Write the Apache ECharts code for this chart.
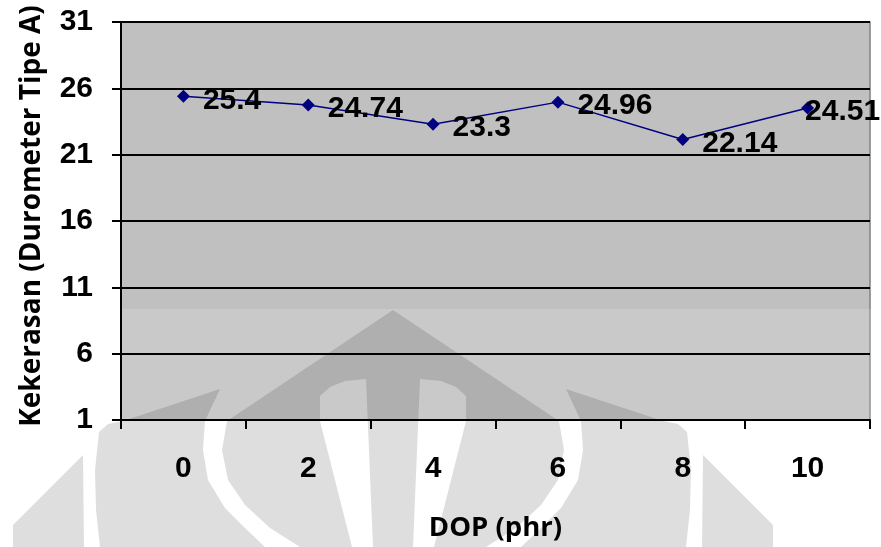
<!DOCTYPE html>
<html>
<head>
<meta charset="utf-8">
<script src="https://cdn.jsdelivr.net/npm/echarts@6/dist/echarts.min.js"></script>
<style>
  html, body { margin: 0; padding: 0; background: #ffffff; }
  #chart { width: 881px; height: 547px; }
</style>
</head>
<body>
<div id="chart"></div>
<script>
// DOP content (phr) and measured hardness (Durometer type A)
const dopLevels = ['0', '2', '4', '6', '8', '10'];
const hardness = [25.4, 24.74, 23.3, 24.96, 22.14, 24.51];
const yTicks = [1, 6, 11, 16, 21, 26, 31];

const chart = echarts.init(document.getElementById('chart'), null, { renderer: 'canvas' });

const labelFont = 'Liberation Sans, Arial, sans-serif';
const titleFont = 'Open Sans, sans-serif';

// Plot-area box (pixels)
const plot = { left: 121, right: 11, top: 22, bottom: 126 };

// Faint emblem printed behind the lower part of the page (left half; mirrored for the right)
const emblemAxisX = 393;
const emblemTop = 309;
const emblemHalf = [
  // central horn with its inner cut-out and half of the spire
  [[393,310],[227,421],[222,450],[228,480],[245,505],[270,528],[300,547],[352,547],[320,421],[320,396],[330,387],[345,381],[366,379],[373,547],[393,547]],
  // side wing
  [[123,421],[220,389],[205,421],[203,450],[208,480],[225,508],[245,528],[265,547],[100,547],[96,510],[95,470],[99,432],[108,424]],
  // outer petal
  [[83,455],[60,478],[35,503],[13,525],[13,547],[84,547]]
];
const emblemShade = 'rgba(0,0,0,0.13)';

function emblemElements() {
  const make = () => emblemHalf.map(pts => ({ type: 'polygon', shape: { points: pts }, style: { fill: emblemShade } }));
  return [
    {
      type: 'rect', z: -1,
      shape: { x: 0, y: emblemTop, width: 881, height: 547 - emblemTop },
      style: { fill: 'rgba(255,255,255,0.14)' }
    },
    { type: 'group', z: -1, children: make() },
    { type: 'group', z: -1, x: emblemAxisX * 2, scaleX: -1, children: make() }
  ];
}

// the last label is pulled back inside the chart edge
const seriesData = hardness.map((v, i) => i === hardness.length - 1
  ? { value: v, label: { offset: [-22, 4] } }
  : v);

chart.setOption({
  animation: false,
  backgroundColor: '#ffffff',
  grid: {
    left: plot.left, right: plot.right, top: plot.top, bottom: plot.bottom,
    show: true,
    z: -2,
    backgroundColor: '#c0c0c0',
    borderColor: '#808080',
    borderWidth: 1.5
  },
  graphic: { elements: emblemElements() },
  xAxis: {
    type: 'category',
    data: dopLevels,
    boundaryGap: true,
    name: 'DOP (phr)',
    nameLocation: 'middle',
    nameGap: 94,
    nameTextStyle: { fontFamily: titleFont, fontWeight: 'bold', fontSize: 27.5, color: '#000' },
    axisLine: { lineStyle: { color: '#000', width: 2 } },
    axisTick: { show: true, length: 9, inside: false, alignWithLabel: false, lineStyle: { color: '#000', width: 2 } },
    axisLabel: { fontFamily: labelFont, fontWeight: 'bold', fontSize: 30, color: '#000', margin: 34 },
    splitLine: { show: false }
  },
  yAxis: {
    type: 'value',
    min: yTicks[0],
    max: yTicks[yTicks.length - 1],
    interval: 5,
    name: 'Kekerasan (Durometer Tipe A)',
    nameLocation: 'middle',
    nameRotate: 90,
    nameGap: 75,
    nameTextStyle: { fontFamily: titleFont, fontWeight: 'bold', fontSize: 28, color: '#000', padding: [0, 0, 0, 10] },
    axisLine: { show: true, lineStyle: { color: '#000', width: 2 } },
    axisTick: { show: true, length: 9, lineStyle: { color: '#000', width: 2 } },
    axisLabel: { fontFamily: labelFont, fontWeight: 'bold', fontSize: 30, color: '#000', margin: 28, padding: [6, 0, 0, 0] },
    splitLine: { show: true, lineStyle: { color: '#000', width: 2 } }
  },
  series: [{
    type: 'line',
    data: seriesData,
    symbol: 'diamond',
    symbolSize: 13,
    itemStyle: { color: '#000080' },
    lineStyle: { color: '#000080', width: 1.5 },
    label: {
      show: true,
      position: 'right',
      distance: 13,
      offset: [0, 4],
      fontFamily: labelFont,
      fontWeight: 'bold',
      fontSize: 30,
      color: '#000'
    },
    z: 5
  }]
});
</script>
</body>
</html>
